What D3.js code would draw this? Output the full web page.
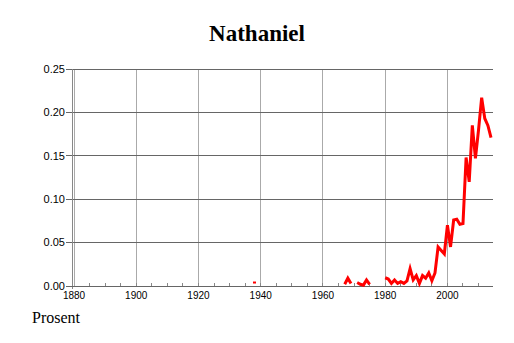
<!DOCTYPE html>
<html><head><meta charset="utf-8">
<script src="https://cdn.jsdelivr.net/npm/d3@7"></script>
<style>body{margin:0;background:#fff}svg{display:block}</style>
</head><body>
<script>
const title = "Nathaniel";
const yLabel = "Prosent";
const years = [1938,1939,
  1967,1968,1969,1970,
  1971,1972,1973,1974,1975,1976,
  1980,1981,1982,1983,1984,1985,1986,1987,1988,1989,1990,1991,1992,1993,1994,1995,1996,1997,1998,1999,
  2000,2001,2002,2003,2004,2005,2006,2007,2008,2009,2010,2011,2012,2013,2014];
const values = [0.004,null,
  0.002,0.009,0.003,null,
  0.004,0.002,0.001,0.007,0.002,null,
  0.0095,0.008,0.003,0.007,0.003,0.005,0.003,0.006,0.020,0.007,0.012,0.003,0.012,0.009,0.015,0.006,0.015,0.045,0.041,0.037,
  0.070,0.045,0.076,0.077,0.071,0.072,0.148,0.120,0.185,0.147,0.180,0.217,0.193,0.185,0.171];
const yTicks = [0,0.05,0.10,0.15,0.20,0.25];
const xLabelTicks = [1880,1900,1920,1940,1960,1980,2000];

const W=514,H=343;
const svg=d3.select("body").append("svg").attr("width",W).attr("height",H);
const x=d3.scaleLinear().domain([1880,2014]).range([74,491]);
const y=d3.scaleLinear().domain([0,0.25]).range([286,69]);

// vertical grid
svg.append("g").selectAll("line").data(xLabelTicks).join("line")
  .attr("x1",d=>x(d)).attr("x2",d=>x(d)).attr("y1",y(0.25)).attr("y2",y(0))
  .attr("stroke","#aaa").attr("stroke-width",1).attr("shape-rendering","crispEdges");
// horizontal grid (extend left as ticks)
svg.append("g").selectAll("line").data(yTicks).join("line")
  .attr("x1",66).attr("x2",493).attr("y1",d=>y(d)).attr("y2",d=>y(d))
  .attr("stroke","#666").attr("stroke-width",1).attr("shape-rendering","crispEdges");
// y axis line
svg.append("line").attr("x1",72).attr("x2",72).attr("y1",y(0.25)).attr("y2",y(0)+3)
  .attr("stroke","#888").attr("shape-rendering","crispEdges");
// x axis line
svg.append("line").attr("x1",72).attr("x2",493).attr("y1",y(0)).attr("y2",y(0))
  .attr("stroke","#666").attr("shape-rendering","crispEdges");
// minor ticks
const minor=d3.range(1885,2015,5);
svg.append("g").selectAll("line").data(minor).join("line")
  .attr("x1",d=>x(d)).attr("x2",d=>x(d)).attr("y1",y(0)-3).attr("y2",y(0))
  .attr("stroke","#888").attr("shape-rendering","crispEdges");

// y labels
svg.append("g").selectAll("text").data(yTicks).join("text")
  .attr("x",65).attr("y",d=>y(d)).attr("dy","0.35em").attr("text-anchor","end")
  .attr("font-family","Liberation Sans, Arial, sans-serif").attr("font-size",11)
  .text(d=>d3.format(".2f")(d));
// x labels
svg.append("g").selectAll("text").data(xLabelTicks).join("text")
  .attr("x",d=>x(d)).attr("y",298.5).attr("text-anchor","middle")
  .attr("font-family","Liberation Sans, Arial, sans-serif").attr("font-size",10)
  .text(d=>d);

// title
svg.append("text").attr("x",257).attr("y",41).attr("text-anchor","middle")
  .attr("font-family","Liberation Serif, Times New Roman, serif").attr("font-weight","bold")
  .attr("font-size",23).text(title);
svg.append("text").attr("x",32).attr("y",323)
  .attr("font-family","Liberation Serif, Times New Roman, serif")
  .attr("font-size",16).text(yLabel);

const data=years.map((yr,i)=>({year:yr,value:values[i]}));
const line=d3.line().defined(d=>d.value!==null).x(d=>x(d.year)).y(d=>y(d.value));
svg.append("path").datum(data).attr("d",line).attr("fill","none")
  .attr("stroke","#ff0000").attr("stroke-width",3).attr("stroke-linejoin","miter");
// isolated points
const iso=data.filter((d,i)=>d.value!==null &&
  (i===0||data[i-1].value===null||data[i-1].year!==d.year-1) &&
  (i===data.length-1||data[i+1].value===null||data[i+1].year!==d.year+1));
svg.append("g").selectAll("rect").data(iso).join("rect")
  .attr("x",d=>x(d.year)-1.5).attr("y",d=>y(d.value)-1).attr("width",3).attr("height",2)
  .attr("fill","#ff0000");
</script>
</body></html>
